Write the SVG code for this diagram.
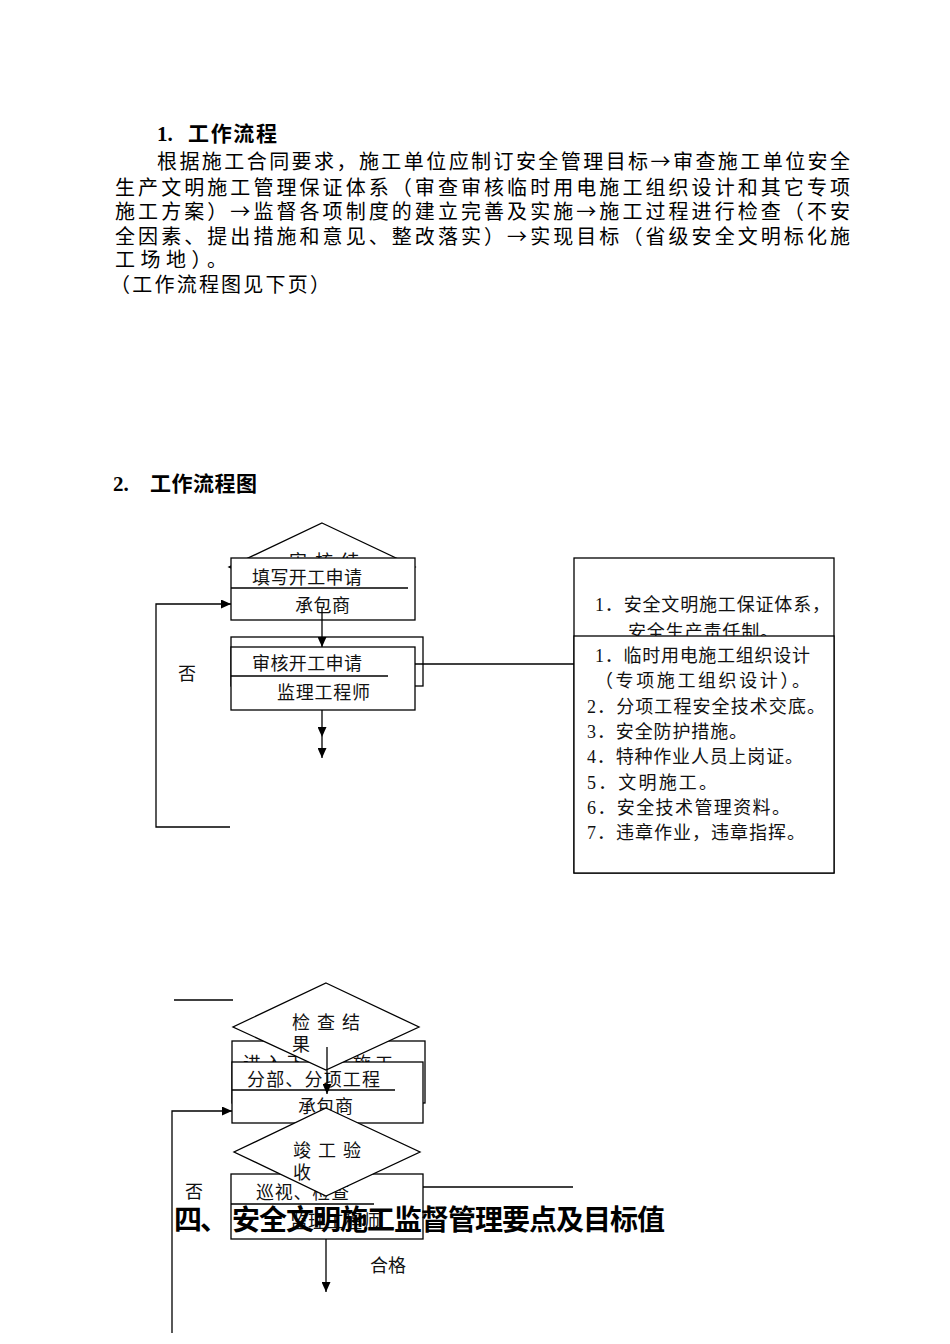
<svg xmlns="http://www.w3.org/2000/svg" width="950" height="1344" viewBox="0 0 950 1344">
<style>
.ln{stroke:#000;stroke-width:1.3;fill:none}
.bx{stroke:#000;stroke-width:1.3;fill:#fff}
.t{font-family:"Liberation Serif","Noto Sans CJK SC",serif;font-size:18px;fill:#111;dominant-baseline:central}
.p{font-family:"Noto Sans CJK SC","Liberation Serif",sans-serif;font-size:20px;fill:#000;dominant-baseline:central}
.h{font-family:"Liberation Serif","Noto Sans CJK SC",serif;font-weight:bold;fill:#000;dominant-baseline:central}
</style>
<defs>
<marker id="ah" markerUnits="userSpaceOnUse" markerWidth="10" markerHeight="9" refX="10" refY="4.5" orient="auto">
<path d="M0,0 L10,4.5 L0,9 Z" fill="#000"/>
</marker>
</defs>
<rect width="950" height="1344" fill="#fff"/>

<g id="intro">
<text class="h" font-size="21" y="134"><tspan x="157">1.</tspan><tspan x="188" textLength="89" lengthAdjust="spacing">工作流程</tspan></text>
<text class="p" x="157" y="160" textLength="693" lengthAdjust="spacing">根据施工合同要求，施工单位应制订安全管理目标→审查施工单位安全</text>
<text class="p" x="115" y="186" textLength="735" lengthAdjust="spacing">生产文明施工管理保证体系（审查审核临时用电施工组织设计和其它专项</text>
<text class="p" x="115" y="210" textLength="735" lengthAdjust="spacing">施工方案）→监督各项制度的建立完善及实施→施工过程进行检查（不安</text>
<text class="p" x="115" y="235" textLength="735" lengthAdjust="spacing">全因素、提出措施和意见、整改落实）→实现目标（省级安全文明标化施</text>
<text class="p" x="115" y="258" textLength="112" lengthAdjust="spacing">工场地）。</text>
<text class="p" x="110" y="283" textLength="220" lengthAdjust="spacing">（工作流程图见下页）</text>
<text class="h" font-size="21" y="484"><tspan x="113">2.</tspan><tspan x="150" textLength="107" lengthAdjust="spacing">工作流程图</tspan></text>
</g>

<g id="diamond-review">
<polygon class="bx" points="322,523 415,567 322,611 229,567"/>
<text class="t" x="289" y="562" textLength="70" lengthAdjust="spacing">审 核 结</text>
<text class="t" x="289" y="585">果</text>
</g>

<g id="box-apply">
<rect class="bx" x="231" y="558" width="184" height="62"/>
<line class="ln" x1="231" y1="588" x2="408" y2="588"/>
<text class="t" x="252" y="578" textLength="110" lengthAdjust="spacing">填写开工申请</text>
<text class="t" x="295" y="606" textLength="55" lengthAdjust="spacing">承包商</text>
</g>

<g id="box-check">
<rect class="bx" x="231" y="637" width="192" height="49"/>
<rect class="bx" x="231" y="647" width="184" height="63"/>
<line class="ln" x1="231" y1="676" x2="388" y2="676"/>
<text class="t" x="252" y="664" textLength="110" lengthAdjust="spacing">审核开工申请</text>
<text class="t" x="277" y="693" textLength="93" lengthAdjust="spacing">监理工程师</text>
</g>

<g id="label-no-1">
<text class="t" x="178" y="674">否</text>
</g>

<g id="box-items">
<rect class="bx" x="574" y="558" width="260" height="315"/>
<text class="t" x="595" y="605" textLength="235" lengthAdjust="spacing">1．安全文明施工保证体系，</text>
<text class="t" x="628" y="632" textLength="150" lengthAdjust="spacing">安全生产责任制。</text>
<rect class="bx" x="574" y="636" width="260" height="237"/>
<text class="t" x="595" y="656" textLength="215" lengthAdjust="spacing">1．临时用电施工组织设计</text>
<text class="t" x="595" y="681" textLength="215" lengthAdjust="spacing">（专项施工组织设计）。</text>
<text class="t" x="587" y="707" textLength="238" lengthAdjust="spacing">2．分项工程安全技术交底。</text>
<text class="t" x="587" y="732" textLength="160" lengthAdjust="spacing">3．安全防护措施。</text>
<text class="t" x="587" y="757" textLength="216" lengthAdjust="spacing">4．特种作业人员上岗证。</text>
<text class="t" x="587" y="783" textLength="130" lengthAdjust="spacing">5．文明施工。</text>
<text class="t" x="587" y="808" textLength="203" lengthAdjust="spacing">6．安全技术管理资料。</text>
<text class="t" x="587" y="833" textLength="218" lengthAdjust="spacing">7．违章作业，违章指挥。</text>
</g>

<g id="box-next">
<rect class="bx" x="232" y="1041" width="193" height="62"/>
<text class="t" x="243" y="1064" textLength="150" lengthAdjust="spacing">进入下一道施工</text>
</g>

<g id="box-sub">
<rect class="bx" x="232" y="1062" width="191" height="61"/>
<line class="ln" x1="232" y1="1090" x2="395" y2="1090"/>
<text class="t" x="247" y="1080" textLength="133" lengthAdjust="spacing">分部、分项工程</text>
<text class="t" x="298" y="1107" textLength="55" lengthAdjust="spacing">承包商</text>
</g>

<g id="diamond-result">
<polygon class="bx" points="326,983 419,1027 326,1070 233,1027"/>
<text class="t" x="292" y="1023" textLength="68" lengthAdjust="spacing">检 查 结</text>
<text class="t" x="292" y="1045">果</text>
</g>

<g id="box-patrol">
<rect class="bx" x="231" y="1174" width="192" height="65"/>
<line class="ln" x1="231" y1="1204" x2="374" y2="1204"/>
<text class="t" x="256" y="1193" textLength="93" lengthAdjust="spacing">巡视、检查</text>
<text class="t" x="290" y="1222" textLength="90" lengthAdjust="spacing">监理工程师</text>
</g>

<g id="diamond-accept">
<polygon class="bx" points="326,1108 420,1152 326,1196 234,1152"/>
<text class="t" x="293" y="1151" textLength="68" lengthAdjust="spacing">竣 工 验</text>
<text class="t" x="293" y="1173">收</text>
</g>

<g id="label-no-2">
<text class="t" x="185" y="1192">否</text>
</g>

<g id="label-pass">
<text class="t" font-size="17" x="370" y="1266" textLength="36" lengthAdjust="spacing">合格</text>
</g>

<g id="connectors">
<line class="ln" x1="322" y1="608" x2="322" y2="647" marker-end="url(#ah)"/>
<line class="ln" x1="322" y1="710" x2="322" y2="737" marker-end="url(#ah)"/>
<line class="ln" x1="322" y1="737" x2="322" y2="758" marker-end="url(#ah)"/>
<line class="ln" x1="415" y1="664" x2="574" y2="664"/>
<polyline class="ln" points="230,827 156,827 156,604 231,604" marker-end="url(#ah)"/>
<line class="ln" x1="174" y1="1000" x2="233" y2="1000"/>
<line class="ln" x1="327" y1="1047" x2="327" y2="1094" marker-end="url(#ah)"/>
<polyline class="ln" points="172,1333 172,1111 232,1111" marker-end="url(#ah)"/>
<line class="ln" x1="423" y1="1187" x2="573" y2="1187"/>
<line class="ln" x1="326" y1="1239" x2="326" y2="1292" marker-end="url(#ah)"/>
</g>

<g id="heading">
<text class="h" font-size="28" y="1220"><tspan x="174" textLength="54" lengthAdjust="spacing">四、</tspan><tspan x="232" textLength="433" lengthAdjust="spacing">安全文明施工监督管理要点及目标值</tspan></text>
</g>
</svg>
